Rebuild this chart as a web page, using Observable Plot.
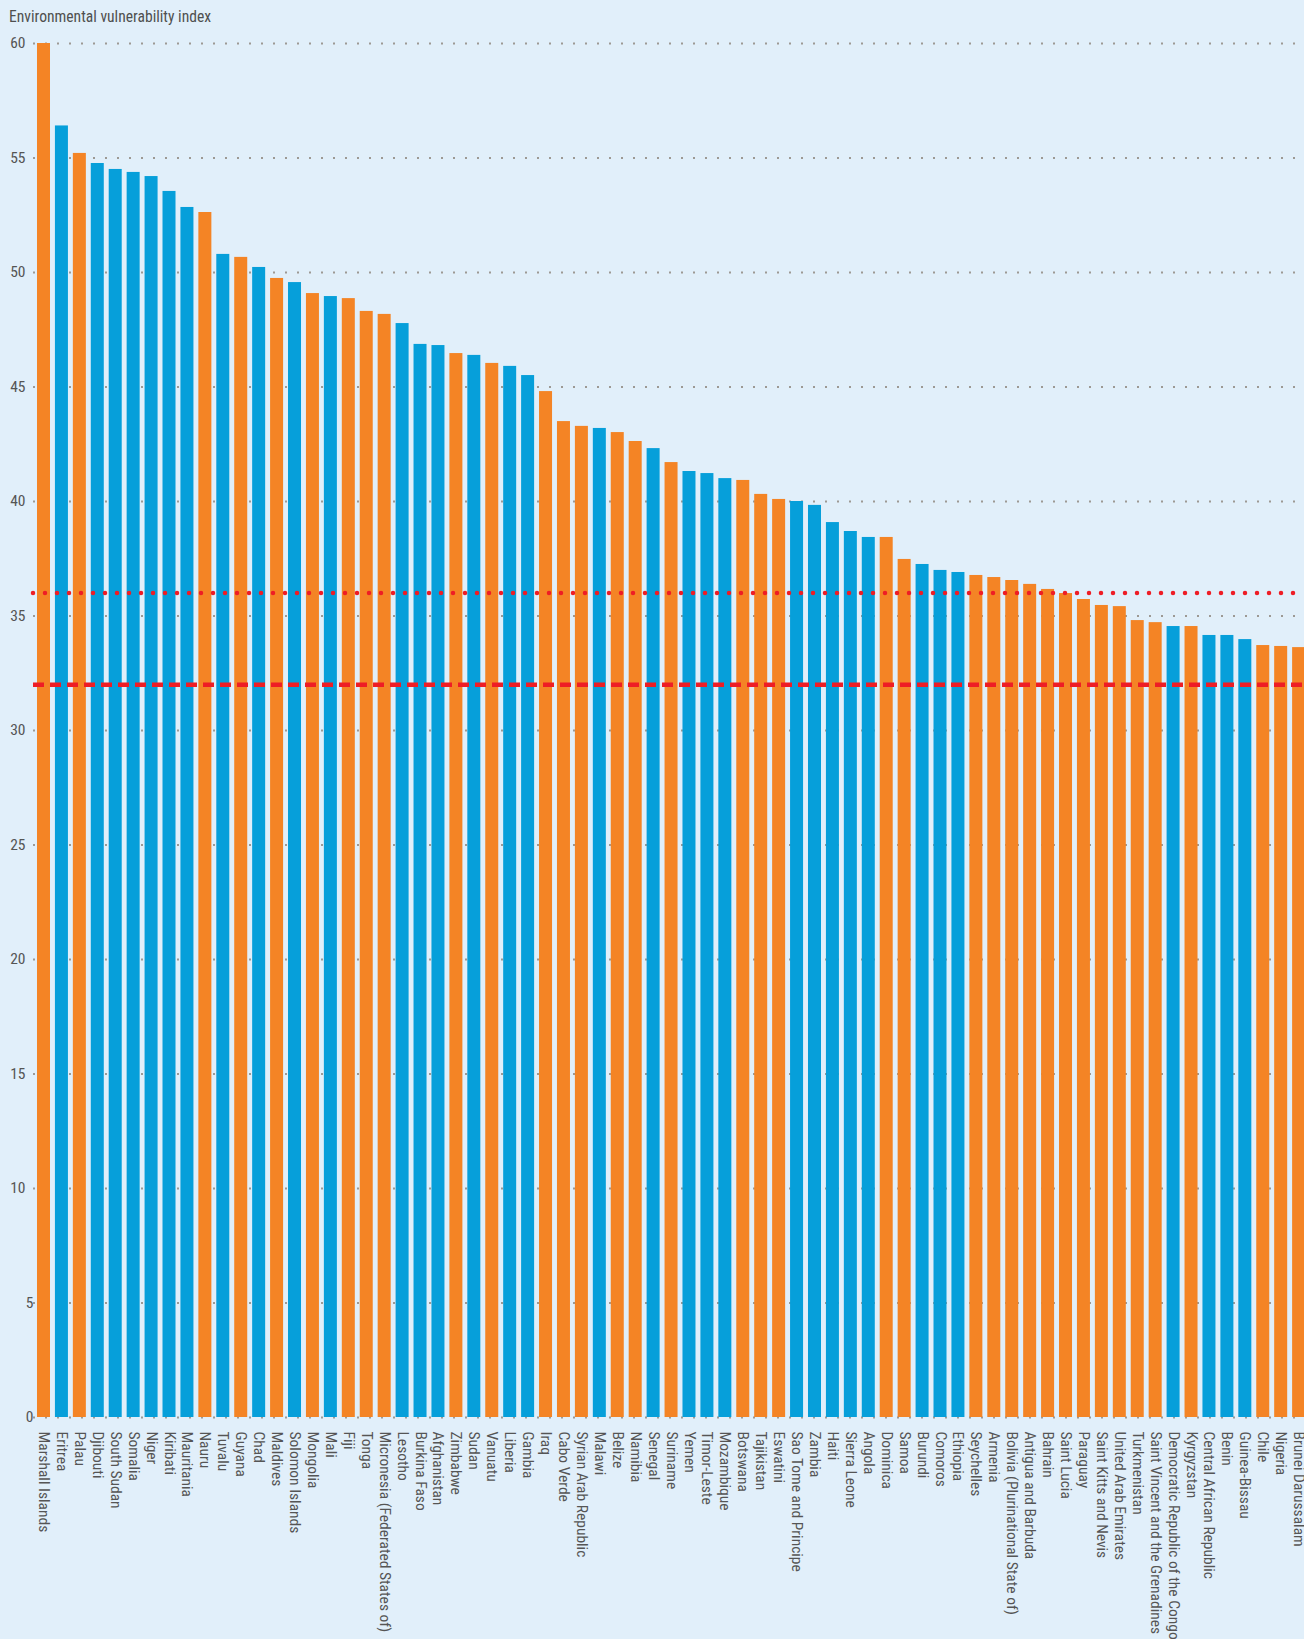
<!DOCTYPE html>
<html>
<head>
<meta charset="utf-8">
<script src="https://cdn.jsdelivr.net/npm/d3@7"></script>
<script src="https://cdn.jsdelivr.net/npm/@observablehq/plot@0.6"></script>
<style>
  html, body { margin: 0; padding: 0; background: #E1EFFA; overflow: hidden; }
  #wrap { position: relative; width: 1304px; height: 1639px; overflow: hidden; background: #E1EFFA; }
  #title { position: absolute; left: 9px; top: 8px; font-family: "Roboto Condensed", Roboto, sans-serif; font-size: 15.6px; color: #4f4f4f; white-space: nowrap; }
</style>
</head>
<body>
<div id="wrap">
  <div id="chart"></div>
  <div id="title">Environmental vulnerability index</div>
</div>
<script>
// ---- Data ----
const countries = [
  "Marshall Islands", "Eritrea", "Palau", "Djibouti", "South Sudan", "Somalia", "Niger", "Kiribati",
  "Mauritania", "Nauru", "Tuvalu", "Guyana", "Chad", "Maldives", "Solomon Islands", "Mongolia",
  "Mali", "Fiji", "Tonga", "Micronesia (Federated States of)", "Lesotho", "Burkina Faso", "Afghanistan",
  "Zimbabwe", "Sudan", "Vanuatu", "Liberia", "Gambia", "Iraq", "Cabo Verde", "Syrian Arab Republic",
  "Malawi", "Belize", "Namibia", "Senegal", "Suriname", "Yemen", "Timor-Leste", "Mozambique",
  "Botswana", "Tajikistan", "Eswatini", "Sao Tome and Principe", "Zambia", "Haiti", "Sierra Leone",
  "Angola", "Dominica", "Samoa", "Burundi", "Comoros", "Ethiopia", "Seychelles", "Armenia",
  "Bolivia (Plurinational State of)", "Antigua and Barbuda", "Bahrain", "Saint Lucia", "Paraguay",
  "Saint Kitts and Nevis", "United Arab Emirates", "Turkmenistan", "Saint Vincent and the Grenadines",
  "Democratic Republic of the Congo", "Kyrgyzstan", "Central African Republic", "Benin",
  "Guinea-Bissau", "Chile", "Nigeria", "Brunei Darussalam"
];
const values = [
  60.0, 56.4, 55.2, 54.76, 54.5, 54.37, 54.19, 53.54,
  52.84, 52.62, 50.79, 50.66, 50.22, 49.74, 49.56, 49.08,
  48.95, 48.86, 48.3, 48.17, 47.77, 46.86, 46.81,
  46.46, 46.38, 46.03, 45.9, 45.5, 44.8, 43.49, 43.28,
  43.19, 43.01, 42.62, 42.31, 41.7, 41.31, 41.22, 41.0,
  40.92, 40.31, 40.09, 40.0, 39.83, 39.08, 38.69,
  38.43, 38.43, 37.47, 37.25, 36.99, 36.9, 36.77, 36.68,
  36.55, 36.38, 36.16, 35.98, 35.72,
  35.46, 35.41, 34.8, 34.71,
  34.54, 34.54, 34.15, 34.15,
  33.97, 33.71, 33.67, 33.62
];
// "LDC" = blue bars, "Other" = orange bars
const groups = [
  "Other", "LDC", "Other", "LDC", "LDC", "LDC", "LDC", "LDC",
  "LDC", "Other", "LDC", "Other", "LDC", "Other", "LDC", "Other",
  "LDC", "Other", "Other", "Other", "LDC", "LDC", "LDC",
  "Other", "LDC", "Other", "LDC", "LDC", "Other", "Other", "Other",
  "LDC", "Other", "Other", "LDC", "Other", "LDC", "LDC", "LDC",
  "Other", "Other", "Other", "LDC", "LDC", "LDC", "LDC",
  "LDC", "Other", "Other", "LDC", "LDC", "LDC", "Other", "Other",
  "Other", "Other", "Other", "Other", "Other",
  "Other", "Other", "Other", "Other",
  "LDC", "Other", "LDC", "LDC",
  "LDC", "Other", "Other", "Other"
];
const groupDomain = ["LDC", "Other"];
const groupColors = ["#069FDA", "#F48425"];
const yTicksOneDigit = [0, 5];
const yTicksTwoDigit = [10, 15, 20, 25, 30, 35, 40, 45, 50, 55, 60];
const dottedThreshold = [36];
const dashedThreshold = [32];

const data = countries.map((c, i) => ({country: c, value: values[i], group: groups[i]}));

const chart = Plot.plot({
  width: 1304,
  height: 1639,
  marginTop: 43,
  marginBottom: 222,
  marginLeft: 33,
  marginRight: 0,
  style: {background: "transparent", fontFamily: "'Roboto Condensed', Roboto, sans-serif", fontSize: "15px", overflow: "hidden"},
  x: {domain: countries, range: [35.2, 1306.9], paddingInner: 0.275, paddingOuter: 0.1, label: null},
  y: {domain: [0, 60], label: null},
  color: {domain: groupDomain, range: groupColors},
  marks: [
    Plot.gridY({ticks: [...yTicksOneDigit, ...yTicksTwoDigit], stroke: "#9d9994", strokeOpacity: 1, strokeWidth: 2, strokeDasharray: "2,10"}),
    Plot.barY(data, {x: "country", y: "value", fill: "group"}),
    Plot.ruleY(dottedThreshold, {stroke: "#EE1D25", strokeWidth: 4.5, strokeDasharray: "0,12", strokeLinecap: "round"}),
    Plot.ruleY(dashedThreshold, {stroke: "#EE1D25", strokeWidth: 4.5, strokeDasharray: "11,6"}),
    Plot.axisY({ticks: yTicksTwoDigit, tickSize: 0, tickPadding: 8, fontSize: 15.5, fill: "#555", label: null}),
    Plot.axisY({ticks: yTicksOneDigit, tickSize: 0, tickPadding: 0, fontSize: 15.5, fill: "#555", label: null}),
    Plot.axisX({tickSize: 0, tickPadding: 14, tickRotate: 90, fontSize: 15.5, fill: "#555", label: null})
  ]
});
document.getElementById("chart").appendChild(chart);
</script>
</body>
</html>
